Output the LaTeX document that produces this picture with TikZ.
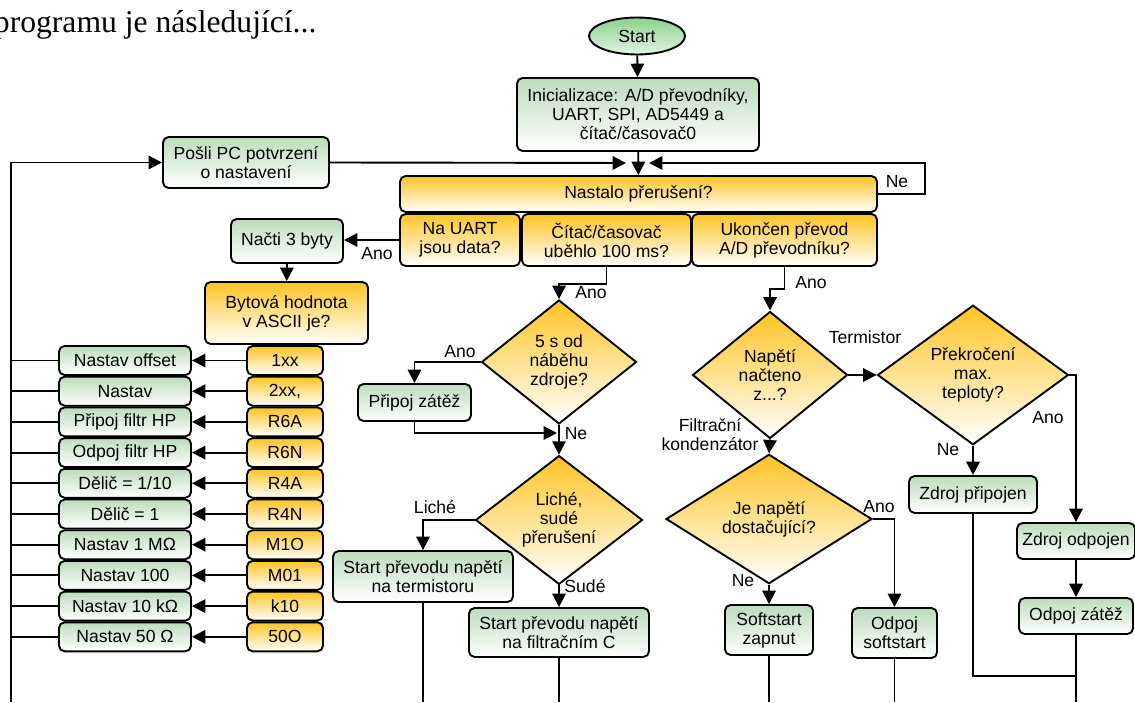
\documentclass[tikz,border=0pt]{standalone}
\usepackage{fontspec}
\setmainfont{Liberation Sans}
\newfontfamily\bodyfont{Liberation Serif}
\usetikzlibrary{shapes.geometric,arrows.meta}

\newdimen\unitpx
\unitpx=0.025cm

\definecolor{boxgreen}{RGB}{188,220,188}
\definecolor{startgreen}{RGB}{140,208,140}
\definecolor{boxorange}{RGB}{255,196,36}

\begin{document}
\begin{tikzpicture}[x=0.025cm,y=-0.025cm,line width=1.35pt,
  >={Triangle[length=9.5pt,width=9.5pt]},
  every node/.style={font=\fontsize{12.5}{13.5}\selectfont},
  grbox/.style={draw,rounded corners=4pt,top color=boxgreen,bottom color=white,align=center,inner sep=2pt},
  orbox/.style={draw,rounded corners=4pt,top color=boxorange,bottom color=white,align=center,inner sep=2pt},
  decision/.style={draw,diamond,top color=boxorange,bottom color=white,align=center,inner sep=0pt},
  startnode/.style={draw,ellipse,top color=startgreen,bottom color=white!75!startgreen},
  lbl/.style={inner sep=0pt}]

\useasboundingbox (0,0) rectangle (1135,702);

\node[lbl,anchor=base west,font={\bodyfont\fontsize{22.5}{24}\selectfont}] (intro) at (-7,33) {programu je následující...};

%%%%%%%%%%%%%%%%%%%%%%%%
% start, inicializace
%%%%%%%%%%%%%%%%%%%%%%%%

\node[startnode,minimum width=96\unitpx,minimum height=37\unitpx] (start) at (637,36) {Start};
\node[grbox,minimum width=242\unitpx,minimum height=73\unitpx] (init) at (638,114.5) {Inicializace: A/D převodníky,\\UART, SPI, AD5449 a\\čítač/časovač0};
\node[grbox,minimum width=166\unitpx,minimum height=51\unitpx] (posli) at (246,162.5) {Pošli PC potvrzení\\o nastavení};

\node[orbox,minimum width=477\unitpx,minimum height=36\unitpx] (nastalo) at (638.5,194) {Nastalo přerušení?};
\node[orbox,minimum width=120\unitpx,minimum height=52\unitpx] (uart) at (460,240) {Na UART\\jsou data?};
\node[orbox,minimum width=169\unitpx,minimum height=52\unitpx] (citac) at (606.5,240) {Čítač/časovač\\uběhlo 100 ms?};
\node[orbox,minimum width=185\unitpx,minimum height=52\unitpx] (ukoncen) at (784.5,240) {Ukončen převod\\A/D převodníku?};

\coordinate (merge) at (638,163);

\draw[->] (start) -- (init);
\draw[->] (init) -- (nastalo);
\draw[->,shorten >=12\unitpx] (posli.east) -- (merge);
\draw[->,shorten >=11\unitpx] (nastalo.east) -- ++(47,0) |- (merge);
\node[lbl] (ne0) at (897,182) {Ne};

%%%%%%%%%%%%%%%%%%%%%%%%
% UART
%%%%%%%%%%%%%%%%%%%%%%%%

\node[grbox,minimum width=112\unitpx,minimum height=44\unitpx] (nacti) at (287,241) {Načti 3 byty};
\node[orbox,minimum width=163\unitpx,minimum height=62\unitpx] (bytova) at (286.5,313) {Bytová hodnota\\v ASCII je?};

\draw[->] (uart.west) -- (uart.west -| nacti.east);
\node[lbl] (ano1) at (377,254) {Ano};
\draw[->] (nacti) -- (bytova);

\node[orbox,minimum width=76\unitpx,minimum height=29\unitpx] (v1) at (285,360.5) {1xx};
\node[orbox,minimum width=76\unitpx,minimum height=29\unitpx] (v2) at (285,391.2) {2xx,};
\node[orbox,minimum width=76\unitpx,minimum height=29\unitpx] (v3) at (285,421.9) {R6A};
\node[orbox,minimum width=76\unitpx,minimum height=29\unitpx] (v4) at (285,452.6) {R6N};
\node[orbox,minimum width=76\unitpx,minimum height=29\unitpx] (v5) at (285,483.3) {R4A};
\node[orbox,minimum width=76\unitpx,minimum height=29\unitpx] (v6) at (285,514) {R4N};
\node[orbox,minimum width=76\unitpx,minimum height=29\unitpx] (v7) at (285,544.7) {M1O};
\node[orbox,minimum width=76\unitpx,minimum height=29\unitpx] (v8) at (285,575.4) {M01};
\node[orbox,minimum width=76\unitpx,minimum height=29\unitpx] (v9) at (285,606.1) {k10};
\node[orbox,minimum width=76\unitpx,minimum height=29\unitpx] (v10) at (285,636.8) {50O};

\node[grbox,minimum width=132\unitpx,minimum height=29\unitpx] (a1) at (125,360.5) {Nastav offset};
\node[grbox,minimum width=132\unitpx,minimum height=29\unitpx] (a2) at (125,391.2) {Nastav};
\node[grbox,minimum width=132\unitpx,minimum height=29\unitpx] (a3) at (125,421.9) {Připoj filtr HP};
\node[grbox,minimum width=132\unitpx,minimum height=29\unitpx] (a4) at (125,452.6) {Odpoj filtr HP};
\node[grbox,minimum width=132\unitpx,minimum height=29\unitpx] (a5) at (125,483.3) {Dělič = 1/10};
\node[grbox,minimum width=132\unitpx,minimum height=29\unitpx] (a6) at (125,514) {Dělič = 1};
\node[grbox,minimum width=132\unitpx,minimum height=29\unitpx] (a7) at (125,544.7) {Nastav 1 MΩ};
\node[grbox,minimum width=132\unitpx,minimum height=29\unitpx] (a8) at (125,575.4) {Nastav 100};
\node[grbox,minimum width=132\unitpx,minimum height=29\unitpx] (a9) at (125,606.1) {Nastav 10 kΩ};
\node[grbox,minimum width=132\unitpx,minimum height=29\unitpx] (a10) at (125,636.8) {Nastav 50 Ω};

\draw[->] (v1) -- (a1);
\draw[->] (v2) -- (a2);
\draw[->] (v3) -- (a3);
\draw[->] (v4) -- (a4);
\draw[->] (v5) -- (a5);
\draw[->] (v6) -- (a6);
\draw[->] (v7) -- (a7);
\draw[->] (v8) -- (a8);
\draw[->] (v9) -- (a9);
\draw[->] (v10) -- (a10);

\coordinate (busTop) at (11,162.5);
\coordinate (busBot) at (11,702);
\coordinate (bottom) at (0,702);

\draw[->] (busBot) -- (busTop) -- (posli.west);
\draw (a1.west) -- (a1.west -| busTop);
\draw (a2.west) -- (a2.west -| busTop);
\draw (a3.west) -- (a3.west -| busTop);
\draw (a4.west) -- (a4.west -| busTop);
\draw (a5.west) -- (a5.west -| busTop);
\draw (a6.west) -- (a6.west -| busTop);
\draw (a7.west) -- (a7.west -| busTop);
\draw (a8.west) -- (a8.west -| busTop);
\draw (a9.west) -- (a9.west -| busTop);
\draw (a10.west) -- (a10.west -| busTop);

%%%%%%%%%%%%%%%%%%%%%%%%
% 100 ms
%%%%%%%%%%%%%%%%%%%%%%%%

\node[decision,minimum width=155\unitpx,minimum height=124\unitpx] (zdroj5s) at (559,362) {5 s od\\náběhu\\zdroje?};
\node[grbox,minimum width=113\unitpx,minimum height=37\unitpx] (pripoj) at (414.5,402.5) {Připoj zátěž};
\node[decision,minimum width=167\unitpx,minimum height=121\unitpx] (liche) at (559,520) {Liché,\\sudé\\přerušení};
\node[grbox,minimum width=180\unitpx,minimum height=51\unitpx] (stTerm) at (423,576.5) {Start převodu napětí\\na termistoru};
\node[grbox,minimum width=180\unitpx,minimum height=49\unitpx] (stFiltr) at (559,632.5) {Start převodu napětí\\na filtračním C};

\coordinate (merge5) at (557,433);

\draw[->] (citac.south) -- ++(0,17) -| (zdroj5s.north);
\node[lbl] (ano2) at (591,293) {Ano};
\draw[->] (zdroj5s.west) -| (pripoj.north);
\node[lbl] (ano3) at (460,352) {Ano};
\draw[->] (pripoj.south) |- (merge5);
\draw[->] (zdroj5s.south) -- (liche.north);
\node[lbl] (ne1) at (576,434) {Ne};
\draw[->] (liche.west) -| (stTerm.north);
\node[lbl] (lich) at (435,507) {Liché};
\draw[->] (liche.south) -- (stFiltr.north);
\node[lbl] (sude) at (585,586) {Sudé};

\draw (stTerm.south) -- (stTerm.south |- bottom);
\draw (stFiltr.south) -- (stFiltr.south |- bottom);

%%%%%%%%%%%%%%%%%%%%%%%%
% A/D prevod
%%%%%%%%%%%%%%%%%%%%%%%%

\node[decision,minimum width=155\unitpx,minimum height=127\unitpx] (napeti) at (770,375) {Napětí\\načteno\\z...?};
\node[decision,minimum width=191\unitpx,minimum height=138\unitpx] (teplota) at (973,375) {Překročení\\max.\\teploty?};
\node[decision,minimum width=206\unitpx,minimum height=104\unitpx] (dost) at (769,519) {Je napětí\\dostačující?};
\node[grbox,minimum width=88\unitpx,minimum height=50\unitpx] (softZap) at (769,630) {Softstart\\zapnut};
\node[grbox,minimum width=85\unitpx,minimum height=50\unitpx] (odpSoft) at (894.5,633) {Odpoj\\softstart};
\node[grbox,minimum width=128\unitpx,minimum height=37\unitpx] (zdrPrip) at (973,494.5) {Zdroj připojen};
\node[grbox,minimum width=118\unitpx,minimum height=36\unitpx] (zdrOdp) at (1076,541) {Zdroj odpojen};
\node[grbox,minimum width=114\unitpx,minimum height=36\unitpx] (odpZat) at (1076,616) {Odpoj zátěž};

\coordinate (joinR) at (1076,676);

\draw[->] (ukoncen.south) -- ++(0,22) -| (napeti.north);
\node[lbl] (ano4) at (811,283) {Ano};
\draw[->] (napeti.east) -- (teplota.west);
\node[lbl] (term) at (865,337) {Termistor};
\draw[->] (napeti.south) -- (dost.north);
\node[lbl,align=center] (filtr) at (710,435) {Filtrační\\kondenzátor};
\draw[->] (dost.south) -- (softZap.north);
\node[lbl] (ne2) at (743,581) {Ne};
\draw[->] (dost.east) -| (odpSoft.north);
\node[lbl] (ano5) at (879,507) {Ano};
\draw[->] (teplota.south) -- (zdrPrip.north);
\node[lbl] (ne3) at (948,450) {Ne};
\draw[->] (teplota.east) -| (zdrOdp.north);
\node[lbl] (ano6) at (1048,418) {Ano};
\draw[->] (zdrOdp) -- (odpZat);
\draw (zdrPrip.south) |- (joinR);

\draw (softZap.south) -- (softZap.south |- bottom);
\draw (odpSoft.south) -- (odpSoft.south |- bottom);
\draw (odpZat.south) -- (odpZat.south |- bottom);

\end{tikzpicture}
\end{document}
